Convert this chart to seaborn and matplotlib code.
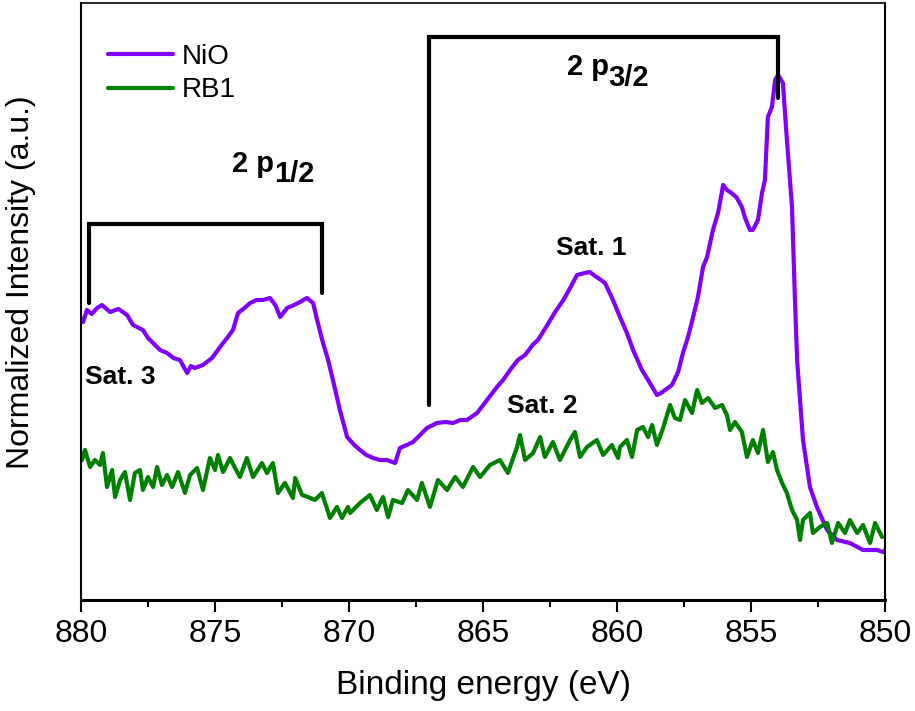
import pandas as pd
import matplotlib
matplotlib.use("Agg")
import matplotlib.pyplot as plt
import seaborn as sns
from matplotlib.ticker import MultipleLocator

# ---- data (binding energy in eV, intensity in a.u.) ----
nio_energy = [880.00, 879.92, 879.78, 879.60, 879.40, 879.22, 878.92, 878.60, 878.28, 878.06,
              877.69, 877.50, 877.31, 877.05, 876.79, 876.55, 876.31, 876.04, 875.90, 875.75,
              875.45, 875.11, 874.81, 874.55, 874.33, 874.14, 873.90, 873.69, 873.45, 873.21,
              872.95, 872.75, 872.57, 872.31, 872.05, 871.83, 871.57, 871.34, 871.19, 870.97,
              870.78, 870.60, 870.34, 870.07, 869.80, 869.59, 869.35, 869.10, 868.85, 868.58,
              868.28, 868.10, 867.85, 867.61, 867.35, 867.09, 866.72, 866.40, 866.12, 865.85,
              865.60, 865.22, 864.85, 864.48, 864.25, 863.99, 863.70, 863.43, 863.15, 862.95,
              862.60, 862.31, 862.00, 861.75, 861.49, 861.20, 861.01, 860.82, 860.60, 860.45,
              860.15, 859.89, 859.63, 859.40, 859.07, 858.84, 858.51, 858.36, 858.21, 857.95,
              857.72, 857.54, 857.35, 857.16, 856.98, 856.79, 856.64, 856.42, 856.23, 856.04,
              855.90, 855.78, 855.55, 855.34, 855.22, 855.04, 854.93, 854.74, 854.59, 854.48,
              854.37, 854.22, 854.10, 853.99, 853.81, 853.66, 853.47, 853.36, 853.28, 853.06,
              852.80, 852.54, 852.16, 851.79, 851.31, 850.82, 850.30, 850.07, 850.00]
nio_intensity = [282, 278, 290, 286, 292, 295, 288, 291, 285, 275,
                 270, 262, 257, 250, 247, 242, 240, 227, 234, 232,
                 235, 242, 253, 262, 270, 287, 292, 297, 300, 300,
                 302, 295, 283, 292, 295, 298, 302, 297, 280, 257,
                 240, 220, 190, 163, 155, 150, 145, 142, 140, 140,
                 137, 152, 155, 158, 165, 172, 177, 178, 177, 180,
                 180, 187, 200, 213, 220, 230, 240, 245, 255, 260,
                 275, 288, 300, 312, 325, 327, 328, 324, 320, 317,
                 300, 283, 267, 250, 230, 220, 205, 207, 210, 215,
                 228, 247, 263, 283, 303, 333, 343, 370, 387, 415,
                 410, 408, 403, 393, 382, 370, 370, 380, 407, 420,
                 483, 493, 520, 525, 517, 460, 393, 300, 240, 160,
                 113, 93, 70, 60, 57, 50, 50, 48, 50]

rb1_energy = [879.96, 879.85, 879.66, 879.48, 879.29, 879.18, 879.03, 878.84, 878.73, 878.54,
              878.36, 878.17, 877.99, 877.80, 877.69, 877.50, 877.31, 877.16, 876.98, 876.79,
              876.60, 876.38, 876.12, 875.93, 875.67, 875.45, 875.19, 875.00, 874.89, 874.70,
              874.44, 874.25, 874.07, 873.81, 873.58, 873.25, 873.06, 872.84, 872.65, 872.39,
              872.09, 872.01, 871.75, 871.53, 871.27, 871.01, 870.71, 870.45, 870.26, 870.04,
              869.96, 869.59, 869.22, 868.96, 868.73, 868.54, 868.36, 868.02, 867.80, 867.46,
              867.28, 866.98, 866.68, 866.34, 866.04, 865.75, 865.37, 865.11, 864.74, 864.37,
              864.07, 863.73, 863.62, 863.43, 863.13, 862.87, 862.69, 862.39, 862.13, 861.75,
              861.57, 861.38, 861.12, 860.75, 860.52, 860.19, 859.96, 859.89, 859.63, 859.44,
              859.25, 859.03, 858.84, 858.69, 858.51, 858.28, 858.02, 857.84, 857.65, 857.46,
              857.20, 857.01, 856.83, 856.60, 856.34, 856.08, 855.90, 855.78, 855.60, 855.34,
              855.15, 854.93, 854.74, 854.55, 854.37, 854.18, 854.03, 853.84, 853.66, 853.47,
              853.28, 853.17, 853.06, 852.80, 852.69, 852.43, 852.16, 851.98, 851.75, 851.49,
              851.31, 851.04, 850.82, 850.56, 850.37, 850.11]
rb1_intensity = [140, 150, 133, 140, 135, 147, 113, 130, 103, 120,
                 128, 100, 127, 130, 110, 123, 113, 133, 115, 125,
                 113, 128, 107, 125, 132, 110, 142, 130, 145, 128,
                 142, 132, 123, 142, 123, 137, 127, 137, 107, 117,
                 102, 122, 105, 103, 100, 107, 82, 93, 82, 93,
                 87, 97, 105, 90, 103, 83, 100, 97, 110, 100,
                 117, 93, 120, 110, 123, 113, 133, 123, 135, 140,
                 127, 153, 165, 140, 147, 163, 143, 158, 140, 160,
                 168, 143, 153, 160, 145, 155, 142, 153, 160, 143,
                 170, 173, 163, 175, 155, 172, 195, 182, 180, 200,
                 187, 210, 197, 202, 192, 195, 185, 170, 178, 168,
                 143, 160, 147, 170, 138, 148, 130, 117, 107, 90,
                 80, 60, 80, 87, 67, 73, 77, 57, 77, 67,
                 80, 67, 75, 57, 77, 63]

# bracket outlines of the spin-orbit components
p12_x = [879.7, 879.7, 871.0, 871.0]
p12_y = [297, 376, 376, 307]
p32_x = [867.0, 867.0, 854.0, 854.0]
p32_y = [195, 563, 563, 502]

NIO_COLOR = "#8000FF"
RB1_COLOR = "#008000"

sns.set_style("white")
plt.rcParams['font.family'] = ['Liberation Sans', 'DejaVu Sans']
plt.rcParams['text.color'] = 'black'
plt.rcParams['axes.labelcolor'] = 'black'
plt.rcParams['xtick.color'] = 'black'

df = pd.concat([
    pd.DataFrame({"energy": nio_energy, "intensity": nio_intensity, "sample": "NiO"}),
    pd.DataFrame({"energy": rb1_energy, "intensity": rb1_intensity, "sample": "RB1"}),
])

fig = plt.figure(figsize=(9.15, 7.11), dpi=100)
ax = fig.add_axes([81 / 915, 111 / 711, 804 / 915, 597 / 711])

sns.lineplot(data=df, x="energy", y="intensity", hue="sample",
             palette={"NiO": NIO_COLOR, "RB1": RB1_COLOR},
             estimator=None, linewidth=3, ax=ax)

# brackets
ax.plot(p12_x, p12_y, color="black", lw=3, solid_capstyle="round", solid_joinstyle="miter")
ax.plot(p32_x, p32_y, color="black", lw=3, solid_capstyle="round", solid_joinstyle="miter")

# labels
ax.text(874.37, 428, "2 p", fontsize=21, fontweight="bold", va="baseline", ha="left")
ax.text(872.80, 418, "1/2", fontsize=21, fontweight="bold", va="baseline", ha="left")
ax.text(861.87, 525, "2 p", fontsize=21, fontweight="bold", va="baseline", ha="left")
ax.text(860.33, 514, "3/2", fontsize=21, fontweight="bold", va="baseline", ha="left")
ax.text(860.97, 345, "Sat. 1", fontsize=19, fontweight="bold", va="baseline", ha="center")
ax.text(862.80, 187, "Sat. 2", fontsize=19, fontweight="bold", va="baseline", ha="center")
ax.text(878.54, 216, "Sat. 3", fontsize=19, fontweight="bold", va="baseline", ha="center")

ax.set_xlim(880, 850)
ax.set_ylim(0, 597)
ax.set_yticks([])
ax.xaxis.set_major_locator(MultipleLocator(5))
ax.xaxis.set_minor_locator(MultipleLocator(2.5))
ax.tick_params(axis="x", which="major", direction="out", length=8.6, width=1.5,
               labelsize=23, pad=5, bottom=True, top=False)
ax.tick_params(axis="x", which="minor", direction="out", length=5, width=1.5,
               bottom=True, top=False)

ax.set_xlabel("Binding energy (eV)", fontsize=24)
ax.set_ylabel("Normalized Intensity (a.u.)", fontsize=23)
ax.xaxis.set_label_coords(0.5, -0.118)
ax.yaxis.set_label_coords(-0.056, 0.533)

for side, lw in [("left", 1.5), ("right", 1.5), ("top", 1.2), ("bottom", 2.2)]:
    ax.spines[side].set_visible(True)
    ax.spines[side].set_linewidth(lw)
    ax.spines[side].set_color("black")

leg = ax.legend(loc="upper left", bbox_to_anchor=(0.0336, 0.931), frameon=False,
                fontsize=20, handlelength=2.34, handletextpad=0.32,
                labelspacing=0.26, borderpad=0, borderaxespad=0, title=None)
for line in leg.get_lines():
    line.set_linewidth(3)

fig.savefig("out.png", dpi=100)
